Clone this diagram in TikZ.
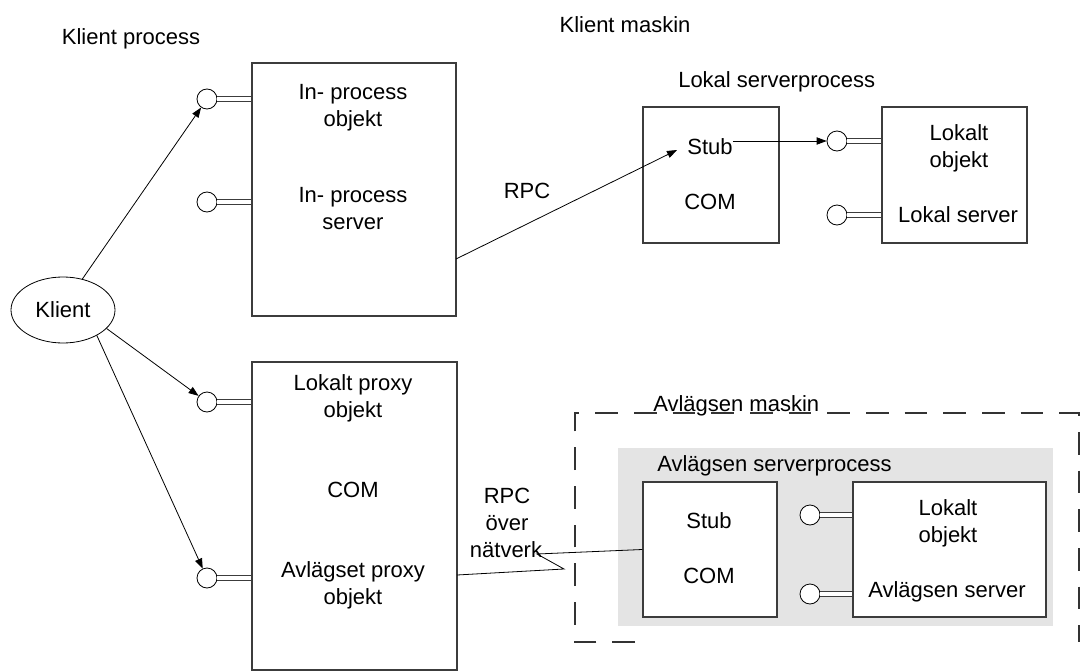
\documentclass[tikz,border=0pt]{standalone}
\usepackage{fontspec}
\setmainfont{Liberation Sans}
\usetikzlibrary{arrows.meta,fit,shapes.geometric}
\definecolor{procgray}{RGB}{228,228,228}
\definecolor{boxline}{RGB}{60,60,60}
\tikzset{
  lbl/.style={font=\fontsize{16.5pt}{20pt}\selectfont, inner sep=0pt, anchor=base},
  lblw/.style={lbl, anchor=base west},
  box/.style={draw=boxline, line width=0.9pt, inner sep=0pt, fill=white},
  port/.style={circle, draw=black, line width=0.6pt, fill=white, minimum size=15pt, inner sep=0pt},
  link/.style={draw=boxline, line width=0.6pt, double=white, double distance=3.6pt},
  arr/.style={draw=black, line width=0.6pt, -{Triangle[length=7.5pt,width=5.5pt]}},
  wire/.style={draw=black, line width=0.6pt},
  machine/.style={draw=black!80, line width=0.8pt, dash pattern=on 17pt off 12pt}
}
\begin{document}
\begin{tikzpicture}[x=0.75pt,y=-0.75pt]
\useasboundingbox (0,0) rectangle (1090,671);

% headings
\node[lbl] (hproc) at (131,44) {Klient process};
\node[lbl] (hmach) at (625,32) {Klient maskin};
\node[lblw] (hlsp) at (678,87) {Lokal serverprocess};

% remote machine frame and remote server process area
\draw[machine] (635,642) -- (575,642) -- (575,413) -- (1079,413) -- (1079,642);
\node[lblw] (hrm) at (653,411) {Avlägsen maskin};
\node[fill=procgray, inner sep=0pt, fit={(618,448) (1053,626)}] (rsp) {};
\node[lblw] (hrsp) at (657,471) {Avlägsen serverprocess};

% boxes
\node[box, fit={(252,63) (456,316)}] (b1) {};
\node[box, fit={(643,107) (779,243)}] (b2) {};
\node[box, fit={(882,107) (1027,243)}] (b3) {};
\node[box, fit={(252,362) (457,670)}] (b4) {};
\node[box, fit={(643,482) (777,617)}] (b5) {};
\node[box, fit={(853,482) (1046,617)}] (b6) {};

% box texts
\node[lbl] (t1a) at (353,99) {In- process};
\node[lbl] (t1b) at (353,126) {objekt};
\node[lbl] (t1c) at (353,202) {In- process};
\node[lbl] (t1d) at (353,229) {server};

\node[lbl] (t2a) at (710,154) {Stub};
\node[lbl] (t2b) at (710,209) {COM};

\node[lbl] (t3a) at (959,140) {Lokalt};
\node[lbl] (t3b) at (959,167) {objekt};
\node[lbl] (t3c) at (958,222) {Lokal server};

\node[lbl] (t4a) at (353,390) {Lokalt proxy};
\node[lbl] (t4b) at (353,417) {objekt};
\node[lbl] (t4c) at (353,497) {COM};
\node[lbl] (t4d) at (353,577) {Avlägset proxy};
\node[lbl] (t4e) at (353,604) {objekt};

\node[lbl] (t5a) at (709,528) {Stub};
\node[lbl] (t5b) at (709,583) {COM};

\node[lbl] (t6a) at (948,515) {Lokalt};
\node[lbl] (t6b) at (948,542) {objekt};
\node[lbl] (t6c) at (947,597) {Avlägsen server};

% connector labels
\node[lbl] (rpc) at (527,198) {RPC};
\node[lbl] (nrpc) at (507,503) {RPC};
\node[lbl] (nover) at (507,530) {över};
\node[lbl] (nnet) at (506,557) {nätverk};

% interface ports
\node[port] (c1) at (207,99) {};
\node[port] (c2) at (207,202) {};
\node[port] (c3) at (207,402) {};
\node[port] (c4) at (207,578) {};
\node[port] (c5) at (837,141) {};
\node[port] (c6) at (837,215) {};
\node[port] (c7) at (810,515) {};
\node[port] (c8) at (810,594) {};

\draw[link] (c1) -- (c1 -| b1.west);
\draw[link] (c2) -- (c2 -| b1.west);
\draw[link] (c3) -- (c3 -| b4.west);
\draw[link] (c4) -- (c4 -| b4.west);
\draw[link] (c5) -- (c5 -| b3.west);
\draw[link] (c6) -- (c6 -| b3.west);
\draw[link] (c7) -- (c7 -| b6.west);
\draw[link] (c8) -- (c8 -| b6.west);

% client
\node[ellipse, draw=black, line width=0.6pt, minimum width=78pt, minimum height=49.5pt, inner sep=0pt,
      font=\fontsize{16.5pt}{20pt}\selectfont] (klient) at (63,310) {Klient};

\draw[arr] (klient.58) -- (c1);
\draw[arr] (klient.-23) -- (c3);
\draw[arr] (klient.-37) -- (c4);

% local RPC
\coordinate (rpcfrom) at (456,259);
\coordinate (rpcto) at (677,150);
\draw[arr] (rpcfrom) -- (rpcto);
\draw[arr] (t2a.east |- c5) -- (c5);

% RPC over the network
\coordinate (z0) at (457,575);
\coordinate (z1) at (564,569);
\coordinate (z2) at (537,554);
\draw[wire] (z0) -- (z1) -- (z2) -- (b5.west);
\end{tikzpicture}
\end{document}
